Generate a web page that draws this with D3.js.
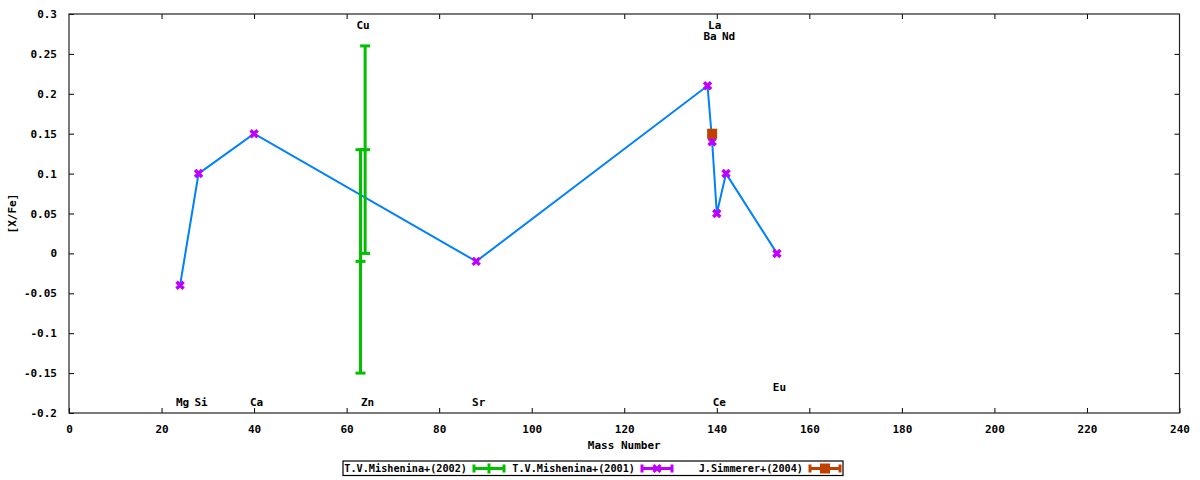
<!DOCTYPE html>
<html>
<head>
<meta charset="utf-8">
<script src="https://cdn.jsdelivr.net/npm/d3@7"></script>
<style>
  body { margin: 0; background: #fff; }
  svg { display: block; }
  text { font-family: "DejaVu Sans Mono", monospace; font-weight: bold; font-size: 11px; fill: #000; }
</style>
</head>
<body>
<div id="chart"></div>
<script>
// T.V.Mishenina+(2001) -- element, mass number, [X/Fe]
const mish01Names = ["Mg", "Si", "Ca", "Sr", "Ba", "La", "Ce", "Nd", "Eu"]
const mish01Mass = [24, 28, 40, 88, 138, 139, 140, 142, 153]
const mish01Val = [-0.04, 0.10, 0.15, -0.01, 0.21, 0.14, 0.05, 0.10, 0.00]

// T.V.Mishenina+(2002) with error bars
const mish02Names = ["Cu", "Zn"]
const mish02Mass = [63, 64]
const mish02Val = [-0.01, 0.13]
const mish02Err = [0.14, 0.13]

// J.Simmerer+(2004)
const simNames = ["La"]
const simMass = [139]
const simVal = [0.15]

// element labels along the plot (mass, [X/Fe] position)
const labelNames = ["Mg", "Si", "Ca", "Zn", "Sr", "Ce", "Eu", "Cu", "La", "Ba", "Nd"]
const labelMass = [24, 28, 40, 64, 88, 140, 153, 63, 139, 138, 142]
const labelY = [-0.187, -0.187, -0.187, -0.187, -0.187, -0.187, -0.167, 0.286, 0.286, 0.272, 0.272]

const xTicks = [0, 20, 40, 60, 80, 100, 120, 140, 160, 180, 200, 220, 240]
const yTicks = [-0.2, -0.15, -0.1, -0.05, 0, 0.05, 0.1, 0.15, 0.2, 0.25, 0.3]

const legendNames = ["T.V.Mishenina+(2002)", "T.V.Mishenina+(2001)", "J.Simmerer+(2004)"]

const W = 1200, H = 480
const margin = { left: 69, right: 20.5, top: 14, bottom: 67 }

const GREEN = "#00c000", PURPLE = "#c000ff", ORANGE = "#c04000", BLUE = "#0080ff"

const svg = d3.select("#chart").append("svg")
  .attr("width", W)
  .attr("height", H)

const x = d3.scaleLinear().domain([0, 240]).range([margin.left, W - margin.right])
const y = d3.scaleLinear().domain([-0.2, 0.3]).range([H - margin.bottom, margin.top])

const fmtY = d => d === 0 ? "0" : String(+d.toFixed(2))

// axes, ticks inward, mirrored
svg.append("g")
  .attr("transform", `translate(0,${y(-0.2)})`)
  .call(d3.axisBottom(x).tickValues(xTicks).tickSize(-5).tickPadding(12).tickFormat(d3.format("d")))
  .call(g => g.select(".domain").remove())
svg.append("g")
  .attr("transform", `translate(0,${y(0.3)})`)
  .call(d3.axisTop(x).tickValues(xTicks.slice(1, -1)).tickSize(-5).tickFormat(""))
  .call(g => g.select(".domain").remove())
svg.append("g")
  .attr("transform", `translate(${x(0)},0)`)
  .call(d3.axisLeft(y).tickValues(yTicks).tickSize(-5).tickPadding(12).tickFormat(fmtY))
  .call(g => g.select(".domain").remove())
svg.append("g")
  .attr("transform", `translate(${x(240)},0)`)
  .call(d3.axisRight(y).tickValues(yTicks.slice(1, -1)).tickSize(-5).tickFormat(""))
  .call(g => g.select(".domain").remove())

svg.selectAll(".tick line").attr("stroke", "#000")
svg.selectAll(".tick text")
  .style("font-family", "DejaVu Sans Mono, monospace")
  .style("font-weight", "bold")
  .style("font-size", "11px")

// frame
svg.append("rect")
  .attr("x", x(0)).attr("y", y(0.3))
  .attr("width", x(240) - x(0)).attr("height", y(-0.2) - y(0.3))
  .attr("fill", "none").attr("stroke", "#222").attr("stroke-width", 1.2)

// axis titles
svg.append("text")
  .attr("x", (x(0) + x(240)) / 2).attr("y", 449)
  .attr("text-anchor", "middle")
  .text("Mass Number")
svg.append("text")
  .attr("transform", `translate(16,${(y(0.3) + y(-0.2)) / 2}) rotate(-90)`)
  .attr("text-anchor", "middle")
  .text("[X/Fe]")

// connecting line through the 2001 values
const line = d3.line().x(d => x(d[0])).y(d => y(d[1]))
svg.append("path")
  .datum(d3.zip(mish01Mass, mish01Val))
  .attr("d", line)
  .attr("fill", "none")
  .attr("stroke", BLUE)
  .attr("stroke-width", 2)

// 2002 error bars
const eb = svg.append("g")
  .selectAll("g")
  .data(d3.zip(mish02Mass, mish02Val, mish02Err))
  .join("g")
  .attr("stroke", GREEN)
  .attr("stroke-width", 3)
eb.append("line")
  .attr("x1", d => x(d[0])).attr("x2", d => x(d[0]))
  .attr("y1", d => y(d[1] - d[2])).attr("y2", d => y(d[1] + d[2]))
eb.append("line")
  .attr("x1", d => x(d[0]) - 5).attr("x2", d => x(d[0]) + 5)
  .attr("y1", d => y(d[1] - d[2])).attr("y2", d => y(d[1] - d[2]))
eb.append("line")
  .attr("x1", d => x(d[0]) - 5).attr("x2", d => x(d[0]) + 5)
  .attr("y1", d => y(d[1] + d[2])).attr("y2", d => y(d[1] + d[2]))
eb.append("line")
  .attr("x1", d => x(d[0]) - 5).attr("x2", d => x(d[0]) + 5)
  .attr("y1", d => y(d[1])).attr("y2", d => y(d[1]))

// 2001 markers (X)
const xMark = (g, cx, cy, r) => {
  g.append("path")
    .attr("d", `M${cx - r},${cy - r}L${cx + r},${cy + r}M${cx - r},${cy + r}L${cx + r},${cy - r}`)
}
const m01 = svg.append("g").attr("stroke", PURPLE).attr("stroke-width", 3.5).attr("fill", "none")
d3.zip(mish01Mass, mish01Val).forEach(d => xMark(m01, x(d[0]), y(d[1]), 3.5))

// Simmerer markers (square)
svg.append("g")
  .selectAll("rect")
  .data(d3.zip(simMass, simVal))
  .join("rect")
  .attr("x", d => x(d[0]) - 5).attr("y", d => y(d[1]) - 5)
  .attr("width", 10).attr("height", 10)
  .attr("fill", ORANGE)

// element labels
svg.append("g")
  .selectAll("text")
  .data(d3.zip(labelNames, labelMass, labelY))
  .join("text")
  .attr("x", d => x(d[1]) + 2.5)
  .attr("y", d => y(d[2]))
  .attr("dy", "0.35em")
  .attr("text-anchor", "middle")
  .text(d => d[0])

// legend
const lg = svg.append("g")
lg.append("rect")
  .attr("x", 343).attr("y", 461).attr("width", 500).attr("height", 14.5)
  .attr("fill", "#fff").attr("stroke", "#000").attr("stroke-width", 1.2)
const legendColors = [GREEN, PURPLE, ORANGE]
const sampleX = [473, 641, 809]
legendNames.forEach((name, i) => {
  const sx = sampleX[i], cy = 468.5
  lg.append("text")
    .attr("x", sx - 6).attr("y", cy).attr("dy", "0.35em")
    .attr("text-anchor", "end")
    .style("font-size", "10.2px")
    .text(name)
  const s = lg.append("g").attr("stroke", legendColors[i]).attr("stroke-width", 3).attr("fill", "none")
  s.append("line").attr("x1", sx).attr("x2", sx + 32).attr("y1", cy).attr("y2", cy)
  s.append("line").attr("x1", sx + 1).attr("x2", sx + 1).attr("y1", cy - 4).attr("y2", cy + 4)
  s.append("line").attr("x1", sx + 31).attr("x2", sx + 31).attr("y1", cy - 4).attr("y2", cy + 4)
  if (i === 0) {
    s.append("line").attr("x1", sx + 16).attr("x2", sx + 16).attr("y1", cy - 5).attr("y2", cy + 5)
  } else if (i === 1) {
    xMark(s.attr("stroke-width", 3), sx + 16, cy, 3.5)
  } else {
    s.append("rect").attr("x", sx + 11).attr("y", cy - 5).attr("width", 10).attr("height", 10)
      .attr("fill", ORANGE).attr("stroke", "none")
  }
})
</script>
</body>
</html>
